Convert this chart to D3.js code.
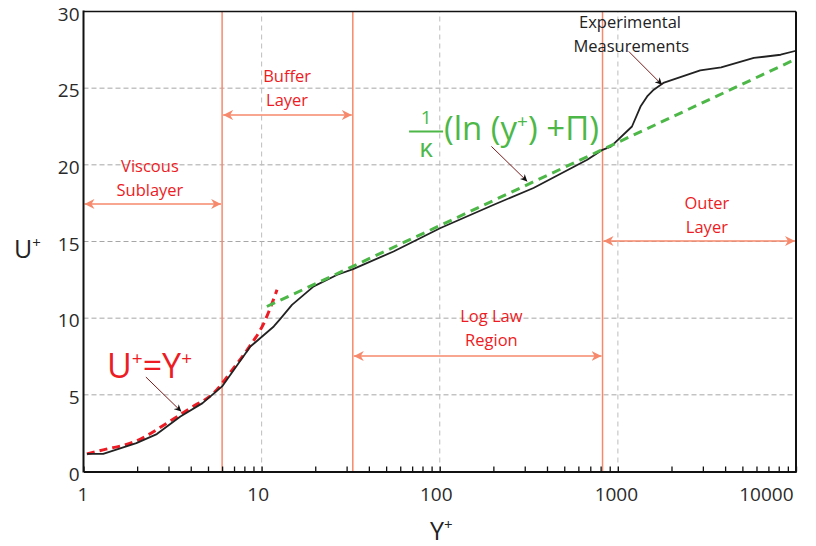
<!DOCTYPE html>
<html>
<head>
<meta charset="utf-8">
<script src="https://cdn.jsdelivr.net/npm/d3@7"></script>
<style>
  body { margin: 0; background: #fff; }
  svg text { font-family: "Open Sans", "Noto Sans", sans-serif; }
</style>
</head>
<body>
<div id="chart"></div>
<script>
// experimental measurements (black line)
var expY = [1.045, 1.29, 1.98, 2.58, 3.5, 4.66, 6, 8.65, 11.7, 12.7, 14.8, 19.6, 26.6, 32.6, 55, 101, 201, 336, 673, 820, 913, 1200, 1340, 1460, 1590, 1800, 2900, 3800, 5800, 8200, 10000];
var expU = [1.15, 1.15, 1.85, 2.44, 3.59, 4.46, 5.55, 8.15, 9.46, 9.94, 10.87, 12.07, 12.83, 13.2, 14.35, 15.88, 17.4, 18.49, 20.33, 20.98, 21.19, 22.5, 23.8, 24.46, 24.9, 25.34, 26.16, 26.35, 26.97, 27.18, 27.44];

// viscous sublayer law (red dashed)
var viscY = [1.045, 1.29, 1.99, 2.94, 3.97, 5.37, 6.96, 8.43, 10.3, 12.2];
var viscU = [1.15, 1.41, 2.0, 3.15, 4.13, 5.11, 6.74, 8.05, 9.68, 11.85];

// log law (green dashed)
var logY = [10.7, 10000];
var logU = [10.76, 26.9];

// region boundaries
var bounds = [6, 32.5, 820];

var xMajor = [1, 10, 100, 1000, 10000];
var xLabelShift = [-1, -4, -4, -2, -3];
var yTicks = [0, 5, 10, 15, 20, 25, 30];
var yGrid = [5, 10, 15, 20, 25];
var xGrid = [10, 100, 1000];

// region labels: [x center, U baseline, line1, line2]
var regions = [
  [2.36, 19.53, "Viscous", "Sublayer"],
  [13.9, 25.4, "Buffer", "Layer"],
  [195, 9.77, "Log Law", "Region"],
  [3160, 17.1, "Outer", "Layer"]
];
// region span arrows: [from, to, U]
var spans = [
  [1, 6, 17.45],
  [6, 32.5, 23.25],
  [32.5, 820, 7.53],
  [820, 10000, 15.03]
];
// pointer arrows: [x1, U1, x2, U2]
var pointers = [
  [2.24, 6.16, 3.54, 3.91],
  [195, 21.2, 310, 18.92],
  [1150, 27.4, 1770, 25.22]
];

var width = 816, height = 546;
var orange = "#f6896b", red = "#ed1c24", green = "#4db848";

var x = d3.scaleLog().domain([1, 10000]).range([83.5, 796]);
var y = d3.scaleLinear().domain([0, 30]).range([471.5, 11.5]);

var svg = d3.select("#chart").append("svg")
  .attr("width", width)
  .attr("height", height);

var defs = svg.append("defs");
defs.append("marker").attr("id", "oh")
  .attr("viewBox", "0 0 10 10").attr("refX", 10).attr("refY", 5)
  .attr("markerWidth", 10).attr("markerHeight", 10)
  .attr("markerUnits", "userSpaceOnUse")
  .attr("orient", "auto-start-reverse")
  .append("path").attr("d", "M0,0 L10,5 L0,10 L3,5 Z").attr("fill", orange);
defs.append("marker").attr("id", "bh")
  .attr("viewBox", "0 0 10 10").attr("refX", 10).attr("refY", 5)
  .attr("markerWidth", 7).attr("markerHeight", 7)
  .attr("markerUnits", "userSpaceOnUse")
  .attr("orient", "auto")
  .append("path").attr("d", "M0,0 L10,5 L0,10 L3,5 Z").attr("fill", "#111");

/* grid */
svg.append("g").selectAll("line").data(yGrid).enter().append("line")
  .attr("x1", x(1)).attr("x2", x(10000))
  .attr("y1", d => y(d)).attr("y2", d => y(d))
  .attr("stroke", "#a6a6a6").attr("stroke-width", 1).attr("stroke-dasharray", "5,3");
svg.append("g").selectAll("line").data(xGrid).enter().append("line")
  .attr("x1", d => x(d)).attr("x2", d => x(d))
  .attr("y1", y(0)).attr("y2", y(30))
  .attr("stroke", "#bdbdbd").attr("stroke-width", 1).attr("stroke-dasharray", "5,4");

/* region boundaries */
svg.append("g").selectAll("line").data(bounds).enter().append("line")
  .attr("x1", d => x(d)).attr("x2", d => x(d))
  .attr("y1", y(0)).attr("y2", y(30))
  .attr("stroke", orange).attr("stroke-width", 1.5);

/* span arrows */
svg.append("g").selectAll("line").data(spans).enter().append("line")
  .attr("x1", d => x(d[0]) + 1).attr("x2", d => x(d[1]) - 1)
  .attr("y1", d => y(d[2])).attr("y2", d => y(d[2]))
  .attr("stroke", orange).attr("stroke-width", 1.5)
  .attr("marker-start", "url(#oh)").attr("marker-end", "url(#oh)");

/* region labels */
var rl = svg.append("g").selectAll("text").data(regions).enter().append("text")
  .attr("text-anchor", "middle")
  .attr("fill", red)
  .style("font-size", "16.5px");
rl.append("tspan").attr("x", d => x(d[0])).attr("y", d => y(d[1])).text(d => d[2]);
rl.append("tspan").attr("x", d => x(d[0])).attr("dy", 24).text(d => d[3]);

svg.append("text")
  .attr("x", x(1170)).attr("y", y(28.92))
  .attr("text-anchor", "middle").attr("fill", "#222")
  .style("font-size", "16.5px")
  .call(t => {
    t.append("tspan").attr("x", x(1170)).text("Experimental");
    t.append("tspan").attr("x", x(1190)).attr("dy", 24).text("Measurements");
  });

/* curves */
var line = d3.line().x(d => x(d[0])).y(d => y(d[1]));

svg.append("path")
  .attr("d", line.curve(d3.curveMonotoneX)(viscY.map((v, i) => [v, viscU[i]])))
  .attr("fill", "none").attr("stroke", red).attr("stroke-width", 3)
  .attr("stroke-dasharray", "8,5");

svg.append("path")
  .attr("d", line.curve(d3.curveLinear)(expY.map((v, i) => [v, expU[i]])))
  .attr("fill", "none").attr("stroke", "#222").attr("stroke-width", 1.8)
  .attr("stroke-linejoin", "round");

svg.append("path")
  .attr("d", line.curve(d3.curveLinear)(logY.map((v, i) => [v, logU[i]])))
  .attr("fill", "none").attr("stroke", green).attr("stroke-width", 3)
  .attr("stroke-dasharray", "9,6");

/* pointer arrows */
svg.append("g").selectAll("line").data(pointers).enter().append("line")
  .attr("x1", d => x(d[0])).attr("y1", d => y(d[1]))
  .attr("x2", d => x(d[2])).attr("y2", d => y(d[3]))
  .attr("stroke", "#7a1c1c").attr("stroke-width", 1)
  .attr("marker-end", "url(#bh)");

/* formula labels */
var uy = svg.append("text")
  .attr("x", x(1.355)).attr("y", y(6.13))
  .attr("fill", red).style("font-size", "34px");
uy.append("tspan").text("U");
uy.append("tspan").attr("dy", -13).style("font-size", "19px").text("+");
uy.append("tspan").attr("dy", 13).text("=Y");
uy.append("tspan").attr("dy", -13).style("font-size", "19px").text("+");

svg.append("text")
  .attr("x", x(83.8)).attr("y", y(22.17) - 8)
  .attr("text-anchor", "middle").attr("fill", green)
  .style("font-size", "19px").text("1");
svg.append("line")
  .attr("x1", x(83.8) - 17).attr("x2", x(83.8) + 17)
  .attr("y1", y(22.17)).attr("y2", y(22.17))
  .attr("stroke", green).attr("stroke-width", 2);
svg.append("text")
  .attr("x", x(83.8)).attr("y", y(22.17) + 25)
  .attr("text-anchor", "middle").attr("fill", green)
  .style("font-size", "26px").text("κ");

var fm = svg.append("text")
  .attr("x", x(105.6)).attr("y", y(21.62))
  .attr("fill", green).style("font-size", "33px");
fm.append("tspan").text("(ln (y");
fm.append("tspan").attr("dy", -12).style("font-size", "19px").text("+");
fm.append("tspan").attr("dy", 12).text(") +Π)");

/* axes frame */
var xAxis = d3.axisBottom(x)
  .tickValues(d3.range(0, 4).flatMap(k => d3.range(1, 10).map(m => m * Math.pow(10, k))).concat([10000]))
  .tickSizeInner(-5).tickSizeOuter(0).tickFormat("");
svg.append("g").attr("transform", `translate(0,${y(0)})`).call(xAxis)
  .call(g => g.select(".domain").attr("stroke-width", 2).attr("stroke", "#111"))
  .call(g => g.selectAll(".tick line").attr("stroke", "#111").attr("stroke-width", 1.3));

var xLab = svg.append("g").attr("transform", `translate(0,${y(0)})`)
  .call(d3.axisBottom(x).tickValues(xMajor).tickSize(0).tickPadding(16.5).tickFormat(d3.format("d")));
xLab.select(".domain").remove();
xLab.selectAll("text").attr("fill", "#2a2a2a").style("font-size", "19px")
  .attr("text-anchor", d => d === 10000 ? "end" : "middle")
  .attr("dx", (d, i) => xLabelShift[i]);

var yAx = svg.append("g").attr("transform", `translate(${x(1)},0)`)
  .call(d3.axisLeft(y).tickValues(yTicks).tickSize(0).tickPadding(4));
yAx.select(".domain").remove();
yAx.selectAll("text").attr("fill", "#2a2a2a").style("font-size", "19px").attr("dy", "0.45em");

svg.append("line").attr("x1", x(1)).attr("x2", x(1)).attr("y1", y(30) - 1).attr("y2", y(0) + 1)
  .attr("stroke", "#111").attr("stroke-width", 2);
svg.append("line").attr("x1", x(1)).attr("x2", x(10000)).attr("y1", y(30)).attr("y2", y(30))
  .attr("stroke", "#111").attr("stroke-width", 1.5);
svg.append("line").attr("x1", x(10000)).attr("x2", x(10000)).attr("y1", y(30)).attr("y2", y(0) + 1)
  .attr("stroke", "#111").attr("stroke-width", 2);

/* axis titles */
var ut = svg.append("text").attr("x", 14).attr("y", 258)
  .attr("fill", "#222").style("font-size", "25px");
ut.append("tspan").text("U");
ut.append("tspan").attr("dy", -10).style("font-size", "15px").text("+");

var yt = svg.append("text").attr("x", 430).attr("y", 540)
  .attr("fill", "#222").style("font-size", "25px");
yt.append("tspan").text("Y");
yt.append("tspan").attr("dy", -10).style("font-size", "15px").text("+");
</script>
</body>
</html>
